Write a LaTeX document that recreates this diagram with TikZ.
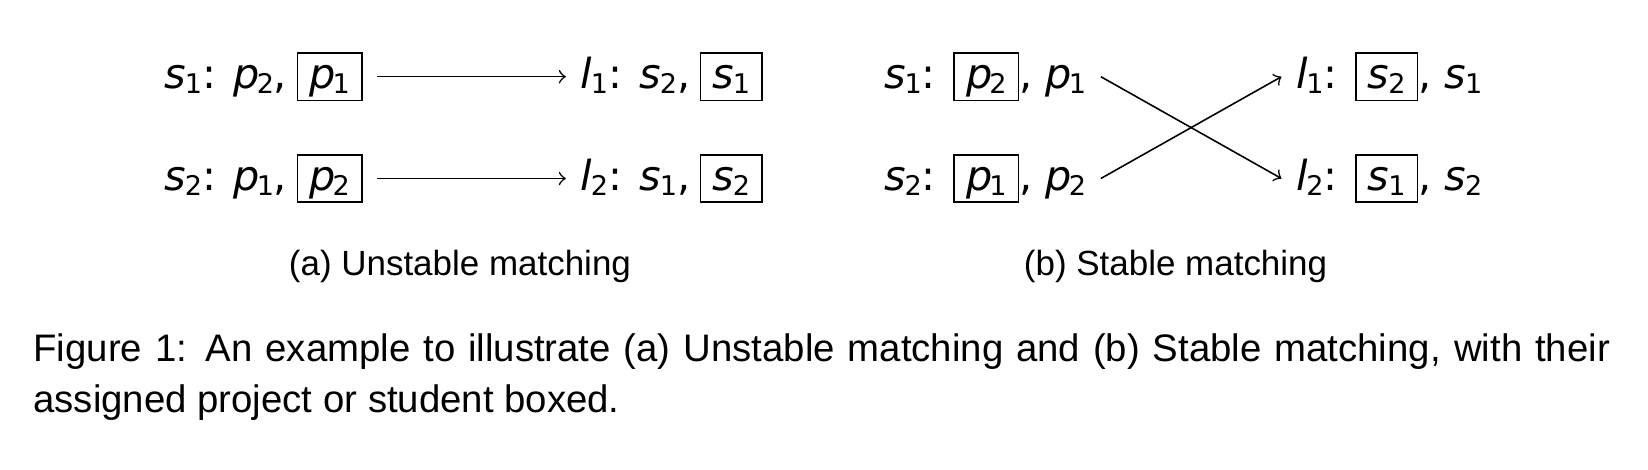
\documentclass[tikz,border=0pt]{standalone}
\usepackage{fontspec}
\setmainfont{Liberation Sans}
\newfontfamily\diagfont{DejaVu Sans}
\usetikzlibrary{positioning}

% italic letter with a small upright index
\newcommand{\ix}[3][-0.3pt]{\textit{#2}\kern#1\raisebox{-1.5pt}{\fontsize{7.2}{8}\selectfont #3}}
% the assigned one, boxed
\newcommand{\bx}[1]{{\setlength{\fboxsep}{0pt}\fbox{\rule[-3pt]{0pt}{12.2pt}\hspace{3pt}#1\hspace{3pt}}}}

\tikzset{
  agent/.style={font=\diagfont\fontsize{11}{13}\selectfont, inner sep=3.7pt, anchor=west},
  match/.style={->, >=to, line width=0.42pt},
  subcap/.style={font=\fontsize{9.3}{11}\selectfont, anchor=base},
}

\begin{document}
\begin{tikzpicture}
\useasboundingbox (0,0) rectangle (15.407,-4.394);
% (a) unstable
\node[agent] (sa1) at (1.40,-0.717) {\ix{s}{1}: \ix[-0.8pt]{p}{2},\hspace{2.5pt}\bx{\ix[-0.8pt]{p}{1}}};
\node[agent] (sa2) at (1.40,-1.669) {\ix{s}{2}: \ix[-0.8pt]{p}{1},\hspace{2.5pt}\bx{\ix[-0.8pt]{p}{2}}};
\node[agent] (la1) at (5.29,-0.717) {\ix{l}{1}: \ix{s}{2},\hspace{2.5pt}\bx{\ix{s}{1}}};
\node[agent] (la2) at (5.29,-1.669) {\ix{l}{2}: \ix{s}{1},\hspace{2.5pt}\bx{\ix{s}{2}}};
\draw[match] (sa1) -- (la1);
\draw[match] (sa2) -- (la2);
\node[subcap] (capa) at (4.30,-2.575) {(a) Unstable matching};
% (b) stable
\node[agent] (sb1) at (8.13,-0.717) {\ix{s}{1}: \bx{\ix[-0.8pt]{p}{2}}, \ix[-0.8pt]{p}{1}};
\node[agent] (sb2) at (8.13,-1.669) {\ix{s}{2}: \bx{\ix[-0.8pt]{p}{1}}, \ix[-0.8pt]{p}{2}};
\node[agent] (lb1) at (11.98,-0.717) {\ix{l}{1}: \bx{\ix{s}{2}}, \ix{s}{1}};
\node[agent] (lb2) at (11.98,-1.669) {\ix{l}{2}: \bx{\ix{s}{1}}, \ix{s}{2}};
\draw[match] (sb1.east) -- (lb2.west);
\draw[match] (sb2.east) -- (lb1.west);
\node[subcap] (capb) at (10.99,-2.575) {(b) Stable matching};
% caption
\node[anchor=north west, inner sep=0pt, text width=14.74cm, align=justify,
  font=\fontsize{10.2}{13.56}\selectfont] (cap) at (0.306,-3.111)
  {Figure 1: An example to illustrate (a) Unstable matching and (b) Stable matching, with their\linebreak assigned project or student boxed.};
\end{tikzpicture}
\end{document}
